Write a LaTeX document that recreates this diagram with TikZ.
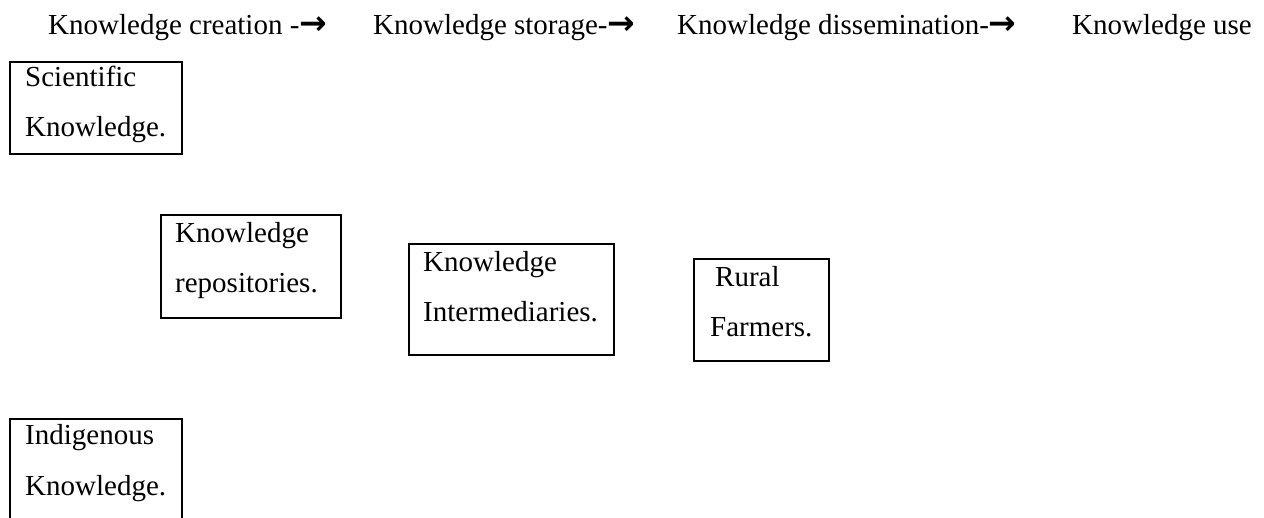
\documentclass[tikz,border=0pt]{standalone}
\usepackage{fontspec}
\setmainfont{Liberation Serif}
\newfontfamily\arrowfont{DejaVu Sans}
\newcommand{\bigarr}{{\arrowfont\bfseries\fontsize{33}{35}\selectfont →}}
\begin{document}
\begin{tikzpicture}[x=1pt,y=-1pt,
  box/.style={draw, line width=1.6pt, rectangle, inner sep=0pt, anchor=north west},
  lbl/.style={anchor=base west, inner sep=0pt, font=\fontsize{29}{35}\selectfont}]
\useasboundingbox (0,0) rectangle (1264,518);
\clip (0,0) rectangle (1264,518);
% header
\node[lbl] (h1) at (48,35) {Knowledge creation -\bigarr};
\node[lbl] (h2) at (373,35) {Knowledge storage-\bigarr};
\node[lbl] (h3) at (677,35) {Knowledge dissemination-\bigarr};
\node[lbl] (h4) at (1072,35) {Knowledge use};
% boxes
\node[box, minimum width=172pt, minimum height=92pt] (sci) at (9,61) {};
\node[lbl] (sci1) at (25,87) {Scientific};
\node[lbl] (sci2) at (25,137) {Knowledge.};
\node[box, minimum width=180pt, minimum height=103pt] (rep) at (160,214) {};
\node[lbl] (rep1) at (175,243) {Knowledge};
\node[lbl] (rep2) at (175,293) {repositories.};
\node[box, minimum width=205pt, minimum height=111pt] (int) at (408,243) {};
\node[lbl] (int1) at (423,272) {Knowledge};
\node[lbl] (int2) at (423,322) {Intermediaries.};
\node[box, minimum width=135pt, minimum height=102pt] (rur) at (693,258) {};
\node[lbl] (rur1) at (715,287) {Rural};
\node[lbl] (rur2) at (710,337) {Farmers.};
\node[box, minimum width=172pt, minimum height=140pt] (ind) at (9,418) {};
\node[lbl] (ind1) at (25,445) {Indigenous};
\node[lbl] (ind2) at (25,495) {Knowledge.};
\end{tikzpicture}
\end{document}
